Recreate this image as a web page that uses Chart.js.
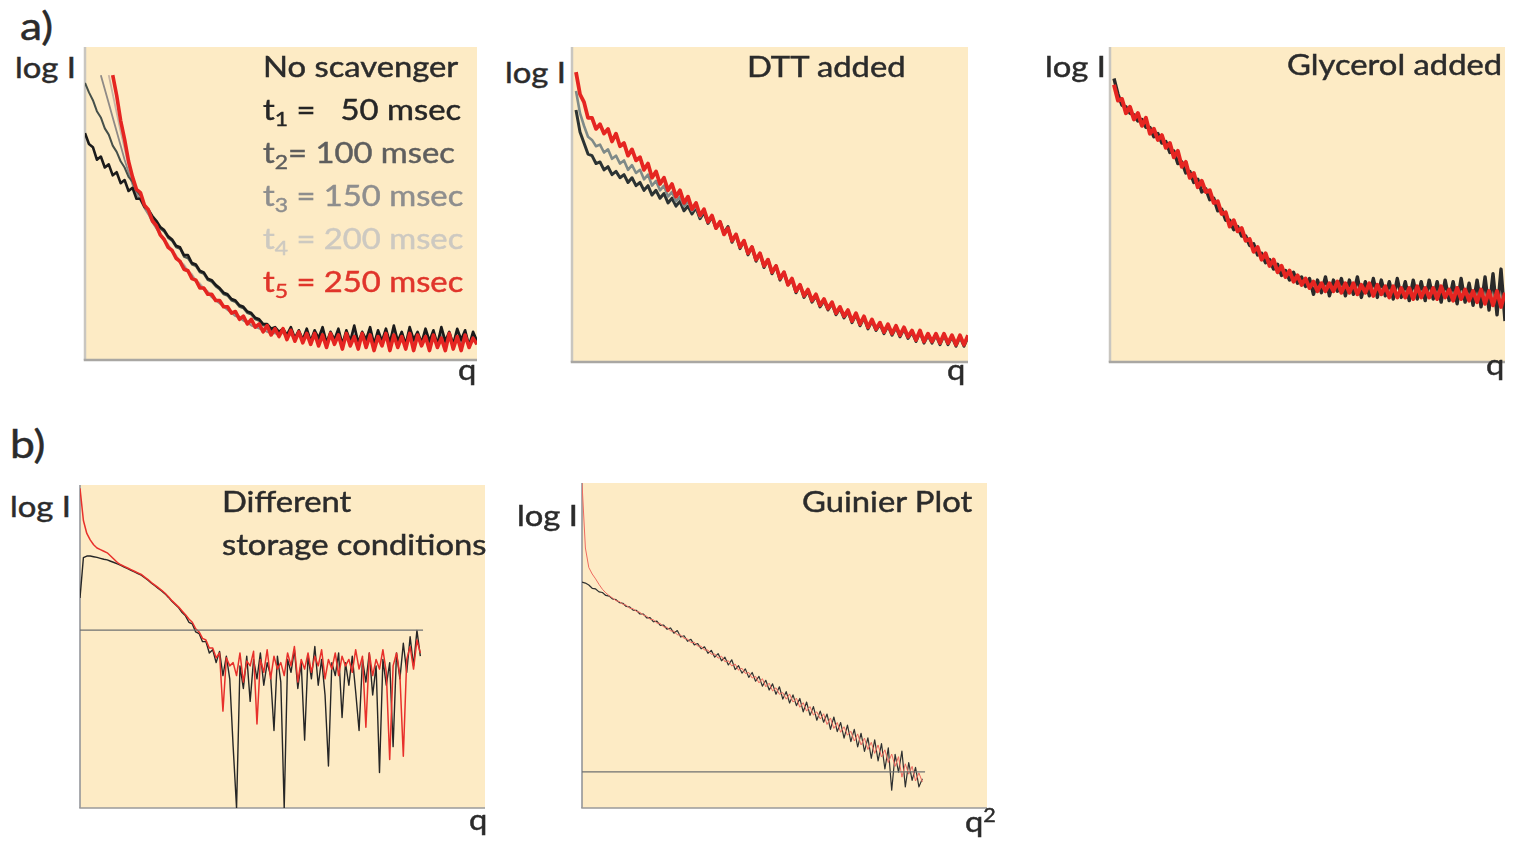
<!DOCTYPE html>
<html><head><meta charset="utf-8">
<script src="https://cdn.jsdelivr.net/npm/chart.js@4.4.1/dist/chart.umd.min.js"></script>
<style>
html,body{margin:0;padding:0;background:#fff;}
#page{position:relative;width:1518px;height:842px;overflow:hidden;background:#fff;font-family:Lato,'Open Sans',sans-serif;color:#2b2b2b;}
.panel{position:absolute;}
.t{position:absolute;white-space:nowrap;font-size:28px;line-height:28px;transform:scaleX(1.17);transform-origin:0 0;-webkit-text-stroke:0.45px currentColor;}
.big{font-size:38px;line-height:38px;}
sub{font-size:0.7em;vertical-align:-0.3em;line-height:0;}
sup{font-size:0.66em;vertical-align:0.55em;line-height:0;}
</style></head><body><div id="page">
<div class="panel" style="left:81px;top:43px;"><canvas id="a1" width="400" height="321"></canvas></div>
<div class="panel" style="left:568px;top:43px;"><canvas id="a2" width="404" height="323"></canvas></div>
<div class="panel" style="left:1106px;top:43px;"><canvas id="a3" width="403" height="323"></canvas></div>
<div class="panel" style="left:76px;top:481px;"><canvas id="b1" width="413" height="331"></canvas></div>
<div class="panel" style="left:578px;top:479px;"><canvas id="b2" width="413" height="333"></canvas></div>

<div class="t big" style="left:20px;top:6px;">a)</div>
<div class="t big" style="left:10px;top:424px;">b)</div>

<div class="t" style="left:15px;top:53px;">log I</div>
<div class="t" style="left:263px;top:52px;color:#2b2b2b;">No scavenger</div>
<div class="t" style="left:263px;top:95px;color:#262626;">t<sub>1</sub> =&nbsp;&nbsp; 50 msec</div>
<div class="t" style="left:263px;top:138px;color:#5e5e5e;">t<sub>2</sub>= 100 msec</div>
<div class="t" style="left:263px;top:181px;color:#8e8e8e;">t<sub>3</sub> = 150 msec</div>
<div class="t" style="left:263px;top:224px;color:#cdc9c1;">t<sub>4</sub> = 200 msec</div>
<div class="t" style="left:263px;top:267px;color:#e0352b;">t<sub>5</sub> = 250 msec</div>
<div class="t" style="left:458px;top:355px;">q</div>

<div class="t" style="left:505px;top:58px;">log I</div>
<div class="t" style="left:747px;top:52px;">DTT added</div>
<div class="t" style="left:947px;top:355px;">q</div>

<div class="t" style="left:1045px;top:52px;">log I</div>
<div class="t" style="left:1287px;top:50px;">Glycerol added</div>
<div class="t" style="left:1486px;top:350px;">q</div>

<div class="t" style="left:10px;top:492px;">log I</div>
<div class="t" style="left:222px;top:487px;">Different</div>
<div class="t" style="left:222px;top:530px;">storage conditions</div>
<div class="t" style="left:469px;top:805px;">q</div>

<div class="t" style="left:517px;top:501px;">log I</div>
<div class="t" style="left:802px;top:487px;">Guinier Plot</div>
<div class="t" style="left:965px;top:807px;">q<sup>2</sup></div>
</div>
<script>
// ---- sampling grids (q positions, arbitrary units) ----
const qA = Array.from({length: 100}, (_, i) => i);   // panels a)
const qB = Array.from({length: 101}, (_, i) => i);   // panels b)
const qAMax = 99;
const qBMax = 119;

// ---- a) No scavenger : log I (arbitrary units, 0-100) ----
const a1_t1 = [72.5,69,68,64,65,61.5,62.5,59,60,56.5,
 57.5,54,55,51.5,51.5,49,48,46,44.5,42.5,
 41.5,39.5,38.5,36.5,36,33.5,33.5,31,30.5,28.5,
 28,26,25.5,24,23,21.5,21,19.5,19,17.5,
 17,15.5,15,13.5,13,11.5,11.5,10,10.5,9,
 10,8,10.5,7,9.5,6.5,10,6,9.5,7,
 10.5,5.5,9,6.5,10,5,9.5,6,11,5.5,
 9,6.5,10.5,5,9.5,6,10,5.5,11,6,
 9,5,10.5,6.5,9,5.5,10,6,9.5,5,
 10.5,6,9,5,10,6.5,9.5,4.5,9,6];
const a1_t2 = [88.5,85.5,83,79.5,77.5,74,72,68.5,66.5,63.5,
 61.5,58.5,57,54,52.5,49.5,48,45.5,44,42,
 41,39,38,36,35.5,33,32.5,30.5,30,28,
 27.5,25.5,25,23.5,22.5,21,20.5,19,18.5,17,
 16.5,15,14.5,13,12.5,11,11,9.5,10,8.5,
 9.5,7.5,10,6.5,9,6,9.5,5.5,9,6.5,
 10,5,8.5,6,9.5,4.5,9,5.5,10.5,5,
 8.5,6,10,4.5,9,5.5,9.5,5,10.5,5.5,
 8.5,4.5,10,6,8.5,5,9.5,5.5,9,4.5,
 10,5.5,8.5,4.5,9.5,6,9,4,8.5,5.5];
const a1_t3 = [null,null,null,null,91,86.5,82,77.5,73,68.5,
 64,60,56,53,51,48.5,46.5,44,42,40,
 38,36.5,34.5,33,31,30,28,27,25,24,
 22.5,21.5,20,19,18,17,16,15,14,13.5,
 12.5,12,11,10.5,10,9.5,9,8.5,8.5,8,
 9,7,8.5,6.5,8,6,8.5,6,7.5,5.5,
 8,5.5,7.5,5,8,5.5,7.5,5,8,5,
 7.5,5.5,8,5,7,5.5,8,4.5,7.5,5,
 8,5,7,5.5,8,4.5,7.5,5,7,5.5,
 8,4.5,7.5,5,7,5.5,8,4.5,7.5,5];
const a1_t4 = [null,null,null,null,null,null,91,85,79,73,
 67.5,62,57,54,51.5,49,47,44.5,42.5,40.5,
 38.5,37,35,33.5,31.5,30.5,28.5,27.5,25.5,24.5,
 23,22,20.5,19.5,18.5,17.5,16.5,15.5,14.5,14,
 13,12.5,11.5,11,10.5,10,9.5,9,9,8.5,
 8.5,7.5,8,7,8.5,6.5,8,6.5,8,6,
 7.5,6,8,5.5,7.5,6,8,5.5,7.5,6,
 8,5.5,7.5,6,8,5.5,7,6,8,5.5,
 7.5,6,8,5.5,7,6,8,5.5,7.5,5,
 7,5.5,8,6,7.5,5,7,5.5,8,5.5];
const a1_t5 = [null,null,null,null,null,null,null,91,84.5,76.5,
 70.5,63.5,58.5,54.5,53.5,49.5,48,44.5,43,40,
 38.5,36,35,32.5,31.5,29,28.5,26,25.5,23,
 23,21,21,19,19,17,17,15,15.5,13,
 14,11.5,13,10.5,11.5,9,11,8,10,7.5,
 10,6.5,9.5,6,9,5.5,8.5,5,8.5,4.5,
 8,4,8.5,5,8,3.5,8.5,4.5,7.5,3.5,
 8.5,4,8,3,7.5,4.5,8.5,3,8,4,
 7.5,3.5,8.5,3,8,4.5,7.5,3,8,4,
 7,3,8.5,3.5,7.5,3,8,4,7,5];

// ---- a) DTT added ----
const a2_black = [null,80,73,69.5,66,65.5,63,63.5,61,62,
 59.5,60.5,58.5,59.5,57,58.5,56,57,54.5,56,
 53,54.5,52,53.5,50.5,52,49.5,51,48,49.5,
 47,49,45.5,47.5,44,46,42.5,44.5,41,43,
 38,40.5,36,38.5,34,36.5,32,34.5,30,32.5,
 28,30.5,26,28.5,24.5,26,22,24.5,20.5,22.5,
 19,21,17.5,19.5,16.5,18.5,15,17,14,16,
 12.5,15,11.5,14,10.5,13,10,12,9,11.5,
 8.5,11,8,10.5,7.5,9.5,6.5,9.5,6,8.5,
 6,8.5,5.5,8.5,5.5,8,5,8,5,8];
const a2_gray = [null,86,79,75,71.5,70.5,68.5,69,66.5,67.5,
 64.5,65.5,63,64,61,62.5,60,61,58,59.5,
 56,57.5,54.5,56,52.5,54,51,52.5,49.5,51,
 48,49.5,46,48,44.5,46,42.5,44,40.5,42.5,
 38.5,40,36.5,38,34.5,36,32.5,34,30.5,32,
 28.5,30,26.5,28,24.5,26,22.5,24,21,22.5,
 19.5,21,18,19.5,17,18.5,15.5,17,14.5,16,
 13,15,12,14,11,13,10.5,12,9.5,11.5,
 9,11,8.5,10.5,8,9.5,7,9.5,6.5,8.5,
 6.5,8.5,6,8.5,6,8,5.5,8,5.5,8];
const a2_red = [null,92,85,82.5,77.5,77.5,74,75.5,72.5,74,
 70,72.5,68.5,69.5,65.5,67.5,64,65,61,63,
 58.5,60.5,56.5,58.5,54.5,56.5,52.5,54.5,50.5,52.5,
 48.5,50.5,46.5,48.5,44.5,46.5,42.5,44.5,40.5,42.5,
 38.5,40.5,36.5,38.5,34.5,36.5,32.5,34.5,30.5,32.5,
 28.5,30.5,26.5,28.5,24.5,26.5,22.5,24.5,21,23,
 19.5,21.5,18,20,17,19,15.5,17.5,14.5,16.5,
 13,15.5,12,14.5,11,13.5,10.5,12.5,9.5,12,
 9,11.5,8.5,11,8,10,7,10,6.5,9,
 6.5,9,6,9,6,8.5,5.5,8.5,5.5,8.5];

// ---- a) Glycerol added ----
const a3_black = [null,90,85,81.5,81,79,78.5,76.5,77,74.5,
 74.5,71.5,72.5,69.5,70,66.5,67,63,63.5,60,
 60.5,57,58,54,55,51.5,52,48,48.5,45,
 45,42,43,40,40,37,37.5,34,34.5,31.5,
 32.5,29.5,31,27.5,29,26,28.5,25,27,24,
 26.5,21.5,26,22,27,21,26,22.5,26.5,21,
 26,21.5,27,20.5,25.5,21,26.5,20.5,26,21,
 25.5,20,26.5,20.5,25.5,19.5,26,20,25.5,19.5,
 26,20,25.5,19,26,19.5,25.5,18.5,26.5,19,
 25,18,26,17.5,27,16.5,28,15,29.5,13];
const a3_red = [null,88,83,83.5,79,81,77,79,75,77.5,
 72.5,74,70.5,72,68,69.5,65,67,62,63.5,
 58.5,60,55.5,57.5,54,54.5,50.5,51,47,47.5,
 43,45,41.5,42.5,38.5,39,35,36.5,32.5,34.5,
 30.5,32.5,28.5,30.5,27,29,25.5,27.5,24.5,26.5,
 23.5,25.5,22.5,25,22.5,25,22.5,25.5,22,25,
 22,25,21.5,24.5,22,25,21,24.5,21.5,24,
 20.5,24,20.5,23.5,20.5,23.5,20,24,20.5,23.5,
 20.5,23.5,20,24,20.5,23,19.5,23.5,20,23,
 19.5,22.5,19,23,18.5,22.5,18,22.5,17.5,22];

// ---- b) Different storage conditions ----
const b1_black = [65,77.5,78,78,77.8,77.6,77.3,77,76.8,76.4,
 76,75.6,75.1,74.6,74.1,73.6,73.1,72.6,72.1,71.3,
 70.5,69.6,68.8,68,67.2,66.3,65.2,64,63,62,
 60.5,59.5,57.5,57,54.5,54,51.5,51.5,48,49,
 45,48.5,41,47,40,19,0,44,37,47,
 33,46,40,48,38,45,41,24,47,39,
 0,46,42,49,37,45,21,47,40,50,
 38,46,35,13,45,41,48,28,45,38,
 47,36,24,46,39,48,35,44,11,46,
 38,45,19,48,40,51,42,53,44,55,
 47];
const b1_red = [99,89,85,83,81.5,80.5,80,79.5,79,78,
 77,76,75.3,74.8,74.3,73.8,73.3,72.8,72.3,71.5,
 70.7,69.8,69,68.2,67.4,66.5,65.4,64.2,63.2,62.2,
 61,59.8,58.5,57.5,55.5,54.5,52.5,52,49.5,49.5,
 46.5,48,30,46.5,44,45,41,48,39,45.5,
 44,48.5,26,46,42,49,40,47,43,45,
 41,48,44,50,39,46,43,48,42,47,
 44,49,40,46,43,48,41,47,44,46,
 42,49,43,47,25,48,41,46,43,49,
 42,15,44,48,41,16,46,50,43,52,
 48];
const b1_refQ = [0, 100.8];
const b1_refLevel = [55.1, 55.1];

// ---- b) Guinier plot ----
const b2_black = [69.5,69.2,68.6,67.6,67.4,66.5,66.3,65.4,65.2,64.3,
 64.1,63.2,63,62,61.9,60.9,60.8,59.7,59.7,58.5,
 58.6,57.3,57.5,56.2,56.3,55,55.4,53.8,54.6,52.6,
 53,51.3,51.9,50.2,50.6,49,49.6,47.6,48.5,46.4,
 47.5,45.3,46.4,44,45.6,42.6,43.8,41.5,42.8,40.2,
 41.7,39,40.5,37.5,39.3,36.3,38.2,35,37.3,33.5,
 35.8,32.3,34.8,31.5,33.7,29.6,32.6,28.5,31.2,27,
 29.8,26.4,28.9,24.2,28,23.5,26.3,21.5,25.5,20.4,
 24.2,18.8,23,17.4,21.6,15.3,21,14.5,19.8,12,
 18.5,5.5,16.5,11,17.5,6.5,14,8.5,12.5,6.5,
 9];
const b2_red = [100,80,74,72,70.5,68.8,67.3,66.2,65.3,64.6,
 63.8,63.5,62.7,62.4,61.5,61.3,60.5,60.2,59.4,59,
 58.1,57.9,56.9,56.8,55.7,55.6,54.5,54.4,53.3,53.2,
 52.2,52,50.9,51,49.8,49.8,48.6,48.6,47.3,47.4,
 46.1,46.7,45,45.3,43.7,44.3,42.4,43,41.4,41.7,
 40,40.5,38.5,39.8,37.3,38.4,36,37,35,35.5,
 33.5,35.1,32.6,33.8,31,32.4,29.8,31.2,28.6,29.6,
 27.4,29,25.7,27.7,24.5,26.3,23.3,25,22.4,23.6,
 20.6,22.8,19.4,21.5,18,20.2,16.8,19.4,15.7,17.9,
 14,16.6,12.8,15.8,9.5,13.6,10.4,12.8,8.3,10.8,
 8];
const b2_refQ = [0, 100.8];
const b2_refLevel = [11.1, 11.1];

// ---- styling ----
const CREAM = '#fdebc5';
const RED = '#e52521';

const framePlugin = {
  id: 'frame',
  beforeDatasetsDraw(chart, args, o) {
    const {ctx, chartArea: a} = chart;
    ctx.save();
    ctx.fillStyle = o.bg;
    ctx.fillRect(a.left, a.top, a.right - a.left, a.bottom - a.top);
    ctx.lineWidth = o.width;
    ctx.strokeStyle = o.left;
    ctx.beginPath(); ctx.moveTo(a.left, a.top); ctx.lineTo(a.left, a.bottom); ctx.stroke();
    ctx.strokeStyle = o.bottom;
    ctx.beginPath(); ctx.moveTo(a.left - o.width / 2, a.bottom); ctx.lineTo(a.right, a.bottom); ctx.stroke();
    ctx.restore();
  }
};

function series(q, ys, color, width, order) {
  return {
    data: q.map((x, i) => ({x: x, y: (ys[i] === undefined ? null : ys[i])})),
    borderColor: color, borderWidth: width, pointRadius: 0, fill: false,
    tension: 0, order: order, borderJoinStyle: 'round', borderCapStyle: 'butt'
  };
}

function makeChart(id, datasets, xmax, frame) {
  new Chart(document.getElementById(id), {
    type: 'line',
    data: {datasets: datasets},
    options: {
      responsive: false, animation: false, events: [], devicePixelRatio: 1,
      layout: {padding: 4},
      scales: {
        x: {type: 'linear', display: false, min: 0, max: xmax},
        y: {type: 'linear', display: false, min: 0, max: 100}
      },
      plugins: {legend: {display: false}, tooltip: {enabled: false}, frame: frame}
    },
    plugins: [framePlugin]
  });
}

const frameA = {bg: CREAM, left: '#c9c6c0', bottom: '#a9a7a3', width: 2.5};
const frameB = {bg: CREAM, left: '#8d8f94', bottom: '#9a9a9a', width: 1.5};

makeChart('a1', [
  series(qA, a1_t5, RED, 3.6, 0),
  series(qA, a1_t1, '#1b1b1b', 2.6, 1),
  series(qA, a1_t2, '#46504a', 2, 2),
  series(qA, a1_t3, '#8f8a86', 1.8, 3),
  series(qA, a1_t4, '#c7b4a4', 1.8, 4)
], qAMax, frameA);

makeChart('a2', [
  series(qA, a2_red, RED, 3.8, 0),
  series(qA, a2_gray, '#7f8a88', 2.6, 1),
  series(qA, a2_black, '#2c3333', 3, 2)
], qAMax, frameA);

makeChart('a3', [
  series(qA, a3_red, RED, 4, 0),
  series(qA, a3_black, '#2a2a2a', 3.4, 1)
], qAMax, frameA);

makeChart('b1', [
  {data: b1_refQ.map((x, i) => ({x: x, y: b1_refLevel[i]})), borderColor: '#6e7070', borderWidth: 1.2, pointRadius: 0, order: 0},
  series(qB, b1_red, '#e8302b', 1.5, 1),
  series(qB, b1_black, '#262626', 1.4, 2)
], qBMax, frameB);

makeChart('b2', [
  {data: b2_refQ.map((x, i) => ({x: x, y: b2_refLevel[i]})), borderColor: '#6e7070', borderWidth: 1.2, pointRadius: 0, order: 0},
  series(qB, b2_red, '#ee6a60', 1, 1),
  series(qB, b2_black, '#2e3030', 1.2, 2)
], qBMax, frameB);
</script>
</body></html>
